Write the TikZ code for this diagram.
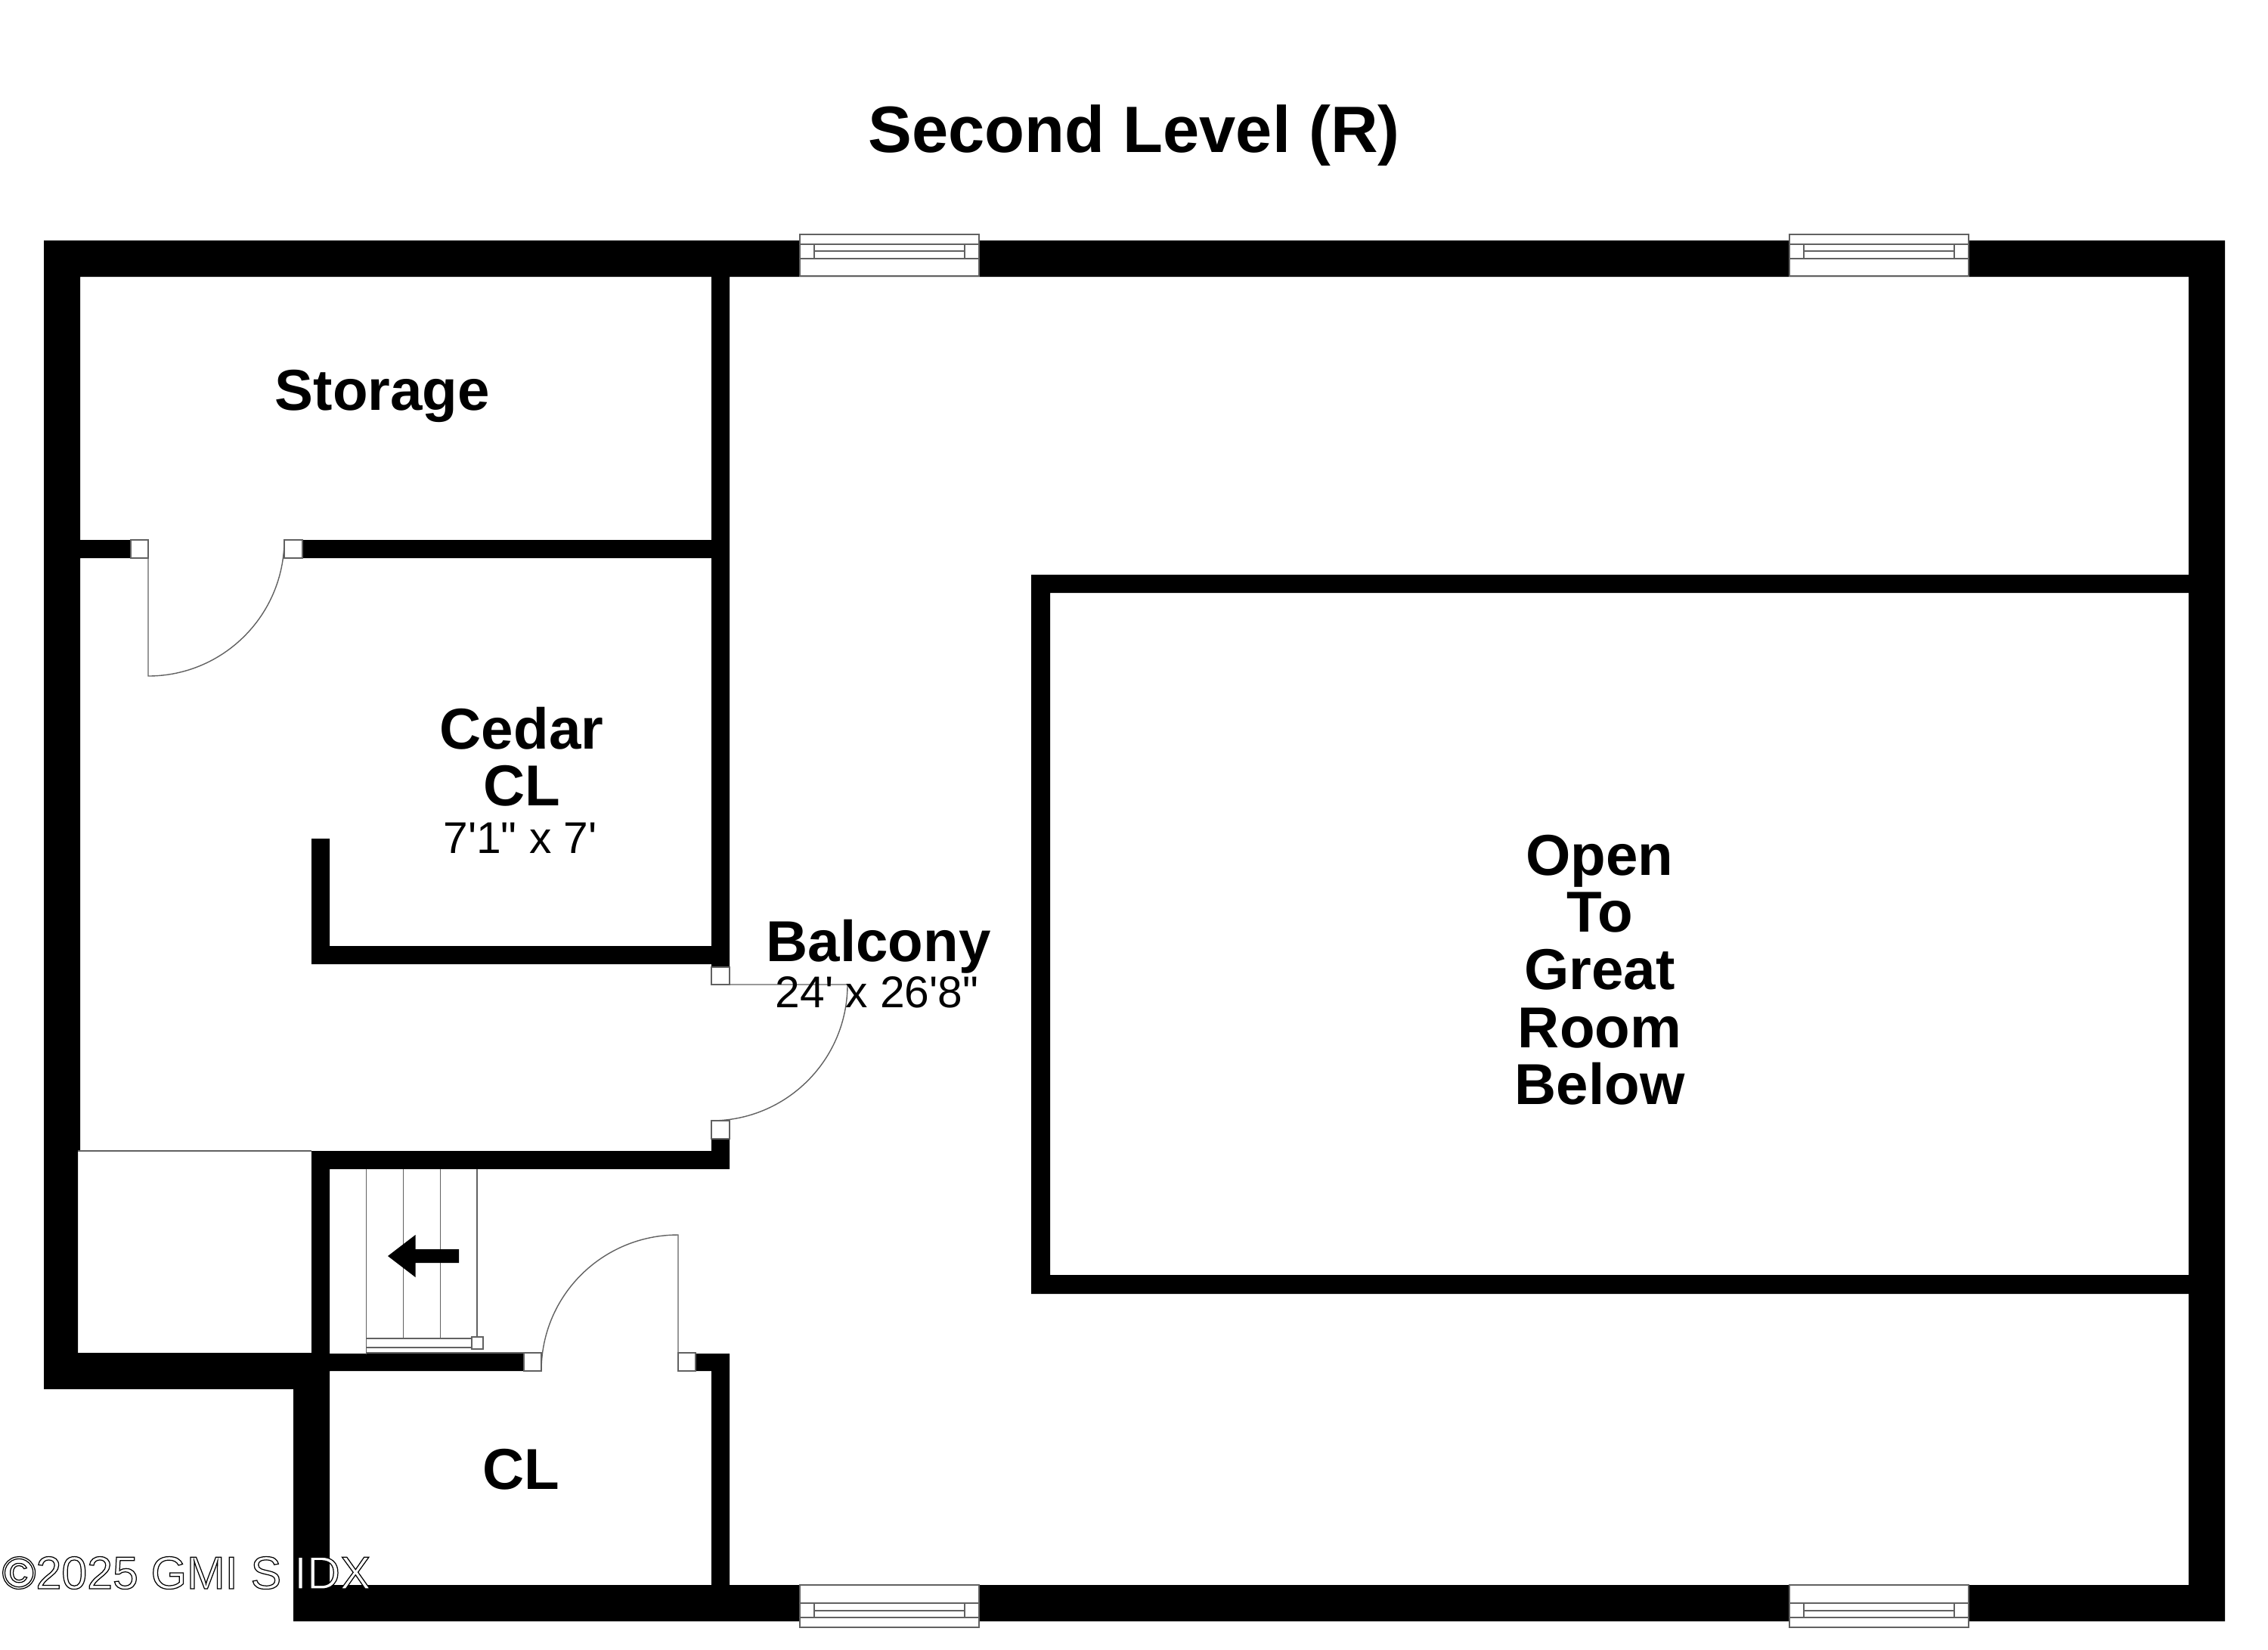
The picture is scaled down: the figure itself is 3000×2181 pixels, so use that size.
\documentclass[tikz,border=0pt]{standalone}
\usepackage{fontspec}
\setmainfont{Liberation Sans}[Ligatures=TeXOff]
\newcommand{\fsz}[1]{\fontsize{#1}{#1}\selectfont}
\tikzset{
  wallfill/.style={fill=black,draw=none},
  thinline/.style={draw=black!62,line width=1.4*0.01cm},
  doorbox/.style={fill=white,draw=black!62,line width=1.4*0.01cm},
  titletext/.style={anchor=base,inner sep=0pt,font=\bfseries\fsz{24.65}},
  roomtext/.style={anchor=base,inner sep=0pt,font=\bfseries\fsz{21.7}},
  dimtext/.style={anchor=base,inner sep=0pt,font=\fsz{16.7}},
  marktext/.style={anchor=base west,inner sep=0pt,font=\fsz{17.3},text=white}
}
\begin{document}
\begin{tikzpicture}[x=0.01cm,y=-0.01cm]
\useasboundingbox (0,0) rectangle (3000,2181);
\fill[white] (0,0) rectangle (3000,2181);
% outer and main walls
\path[wallfill]
  (58,318) rectangle (2943,366)
  (58,318) rectangle (106,1522)
  (58,1522) rectangle (103,1837)
  (2895,318) rectangle (2943,2144)
  (388,2096) rectangle (2943,2144)
  (58,1789) rectangle (436,1837)
  (388,1789) rectangle (436,2144)
  (941,318) rectangle (965,1279)
  (106,714) rectangle (173,738)
  (400,714) rectangle (941,738)
  (412,1109) rectangle (436,1275)
  (412,1251) rectangle (941,1275)
  (412,1522) rectangle (965,1546)
  (941,1506) rectangle (965,1546)
  (412,1522) rectangle (436,1813)
  (436,1790) rectangle (693,1813)
  (920,1790) rectangle (965,1813)
  (941,1790) rectangle (965,2096)
  (1364,760) rectangle (2895,784)
  (1364,760) rectangle (1389,1711)
  (1364,1686) rectangle (2895,1711);
% thin walls / edges
\draw[thinline] (103,1522) -- (412,1522);
\draw[thinline] (484,1789) -- (693,1789);
% windows
\foreach \wx/\wy/\wb in {1058/310/365,2367/310/365}{
  \pgfmathsetmacro{\wxb}{\wx+237}\pgfmathsetmacro{\wxi}{\wx+19}\pgfmathsetmacro{\wxj}{\wx+218}
  \draw[doorbox] (\wx,\wy) rectangle (\wxb,\wb);
  \draw[thinline] (\wx,323) -- (\wxb,323) (\wx,342) -- (\wxb,342) (\wxi,332) -- (\wxj,332) (\wxi,323) -- (\wxi,342) (\wxj,323) -- (\wxj,342);
}
\foreach \wx/\wy/\wb in {1058/2096/2152,2367/2096/2152}{
  \pgfmathsetmacro{\wxb}{\wx+237}\pgfmathsetmacro{\wxi}{\wx+19}\pgfmathsetmacro{\wxj}{\wx+218}
  \draw[doorbox] (\wx,\wy) rectangle (\wxb,\wb);
  \draw[thinline] (\wx,2120) -- (\wxb,2120) (\wx,2139) -- (\wxb,2139) (\wxi,2130) -- (\wxj,2130) (\wxi,2120) -- (\wxi,2139) (\wxj,2120) -- (\wxj,2139);
}
% doors
\draw[doorbox] (173,714) rectangle (196,738);
\draw[doorbox] (376,714) rectangle (400,738);
\draw[thinline] (196,738) -- (196,894) .. controls (295.4,894) and (376,813.4) .. (376,714);
\draw[doorbox] (941,1279) rectangle (965,1302);
\draw[doorbox] (941,1482) rectangle (965,1506);
\draw[thinline] (965,1302) -- (1121,1302) .. controls (1121,1401.4) and (1040.4,1482) .. (941,1482);
\draw[doorbox] (693,1789) rectangle (716,1813);
\draw[doorbox] (897,1789) rectangle (920,1813);
\draw[thinline] (897,1789) -- (897,1633) .. controls (797,1633) and (716,1713) .. (716,1813);
% stairs
\draw[thinline] (484.5,1546) -- (484.5,1791);
\draw[thinline] (533.5,1546) -- (533.5,1770);
\draw[thinline] (582.5,1546) -- (582.5,1770);
\draw[thinline] (631,1546) -- (631,1768);
\draw[doorbox] (484.5,1770) rectangle (624,1782);
\draw[doorbox] (624,1768) rectangle (639,1784);
\fill[black] (513,1661) -- (549.5,1633) -- (549.5,1652) -- (607,1652) -- (607,1670) -- (549.5,1670) -- (549.5,1689) -- cycle;
% labels
\node[titletext] (title) at (1500,201) {Second Level (R)};
\node[roomtext] (storage) at (506,542) {Storage};
\node[roomtext] (cedar) at (690,990) {Cedar};
\node[roomtext] (cedarcl) at (690,1065) {CL};
\node[dimtext] (cedardim) at (688,1128) {7'1" x 7'};
\node[roomtext] (balcony) at (1162,1271) {Balcony};
\node[dimtext] (balconydim) at (1160,1332) {24' x 26'8"};
\node[roomtext] (open) at (2116,1157) {Open};
\node[roomtext] (to) at (2116,1232) {To};
\node[roomtext] (great) at (2116,1308) {Great};
\node[roomtext] (room) at (2116,1385) {Room};
\node[roomtext] (below) at (2116,1460) {Below};
\node[roomtext] (cl) at (689,1969) {CL};
\node[marktext] (mark) at (2,2101) {\special{pdf:code 2 Tr 0.35 w 0 0 0 RG 1 1 1 rg}©2025 GMI S IDX\special{pdf:code 0 Tr}};
\end{tikzpicture}
\end{document}
